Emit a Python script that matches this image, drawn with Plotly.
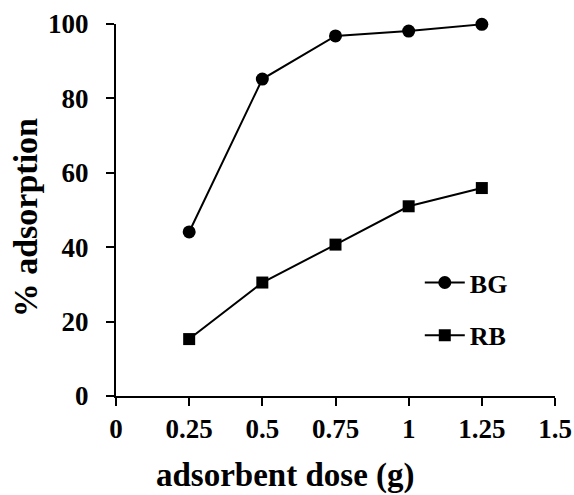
import plotly.graph_objects as go

# Adsorbent dose (g) and percentage adsorption for each dye
dose = [0.25, 0.5, 0.75, 1.0, 1.25]
bg_adsorption = [44.1, 85.2, 96.8, 98.1, 99.9]
rb_adsorption = [15.3, 30.5, 40.7, 51.0, 55.9]

x_ticks = [0, 0.25, 0.5, 0.75, 1, 1.25, 1.5]
x_tick_text = ["0", "0.25", "0.5", "0.75", "1", "1.25", "1.5"]
y_ticks = [0, 20, 40, 60, 80, 100]

FONT = "Liberation Serif, Times New Roman, serif"

fig = go.Figure()
fig.add_trace(go.Scatter(
    x=dose, y=bg_adsorption, name="<b>BG</b>", mode="lines+markers",
    line=dict(color="black", width=2),
    marker=dict(symbol="circle", size=13, color="black"),
    legendgroup="bg", cliponaxis=False,
))
fig.add_trace(go.Scatter(
    x=dose, y=rb_adsorption, name="<b>RB</b>", mode="lines+markers",
    line=dict(color="black", width=2),
    marker=dict(symbol="square", size=12, color="black"),
    legendgroup="rb", cliponaxis=False,
))

axis_common = dict(
    showline=True, linecolor="black", linewidth=2,
    ticks="outside", ticklen=8, tickwidth=2, tickcolor="black",
    showgrid=False, zeroline=False, automargin=False,
    tickfont=dict(family=FONT, size=27, color="black", weight="bold"),
)

fig.update_layout(
    width=574, height=495,
    margin=dict(l=116, r=19, t=24, b=99),
    paper_bgcolor="white", plot_bgcolor="white",
    font=dict(family=FONT, color="black"),
    xaxis=dict(range=[0, 1.5], tickvals=x_ticks, ticktext=x_tick_text,
               **axis_common),
    yaxis=dict(range=[0, 100], tickvals=y_ticks, ticklabelstandoff=12,
               **axis_common),
    legend=dict(
        x=0.692, y=0.368, xanchor="left", yanchor="top",
        bgcolor="rgba(0,0,0,0)", traceorder="grouped", tracegroupgap=16,
        font=dict(family=FONT, size=26, color="black"),
        itemwidth=40,
    ),
    showlegend=True,
    annotations=[
        dict(text="<b>adsorbent dose (g)</b>", xref="paper", yref="paper",
             x=0.385, y=-0.214, xanchor="center", yanchor="middle",
             showarrow=False, font=dict(family=FONT, size=33, color="black")),
        dict(text="<b>% adsorption</b>", xref="paper", yref="paper",
             x=-0.207, y=0.478, xanchor="center", yanchor="middle",
             textangle=-90, showarrow=False,
             font=dict(family=FONT, size=34, color="black")),
    ],
)

fig.write_html("out.html")
